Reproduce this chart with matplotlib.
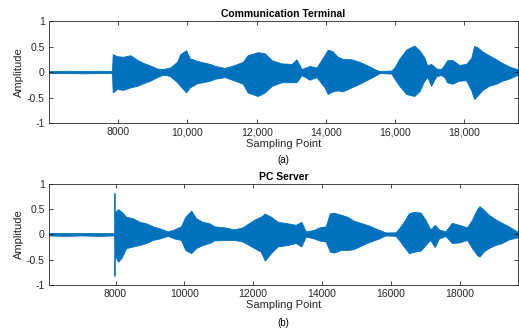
import matplotlib
matplotlib.use("Agg")
import matplotlib.pyplot as plt

plt.rcParams["font.family"] = ["Liberation Sans", "DejaVu Sans"]

# envelope of the waveform (sample, upper, lower)
terminal_x = [6000, 6500, 7000, 7500, 7820, 7840, 7970, 8140, 8350, 8550,
              8720, 8920, 9120, 9300, 9500, 9700, 9790, 9960, 10070, 10280,
              10450, 10650, 10800, 11080, 11370, 11600, 11740, 12030, 12230, 12440,
              12720, 13010, 13150, 13300, 13530, 13730, 13960, 14050, 14190, 14340,
              14480, 14740, 14970, 15200, 15400, 15550, 15890, 15980, 16120, 16320,
              16550, 16700, 16840, 16930, 17040, 17190, 17330, 17420, 17500, 17650,
              17850, 18050, 18200, 18280, 18370, 18510, 18710, 18920, 19090, 19290,
              19520, 19560]
terminal_up = [0.02, 0.025, 0.02, 0.025, 0.02, 0.35, 0.31, 0.30, 0.33, 0.24,
               0.18, 0.13, 0.07, 0.06, 0.09, 0.20, 0.35, 0.43, 0.27, 0.22,
               0.19, 0.16, 0.12, 0.08, 0.14, 0.20, 0.33, 0.39, 0.37, 0.23,
               0.17, 0.16, 0.25, 0.06, 0.12, 0.09, 0.33, 0.44, 0.41, 0.30,
               0.26, 0.25, 0.20, 0.13, 0.06, 0.02, 0.03, 0.09, 0.26, 0.44,
               0.52, 0.43, 0.29, 0.13, 0.16, 0.07, 0.06, 0.14, 0.23, 0.24,
               0.14, 0.16, 0.28, 0.51, 0.49, 0.41, 0.33, 0.25, 0.18, 0.11,
               0.06, 0.06]
terminal_low = [-0.02, -0.02, -0.025, -0.02, -0.02, -0.40, -0.33, -0.35, -0.30, -0.27,
                -0.22, -0.17, -0.10, -0.05, -0.08, -0.20, -0.27, -0.40, -0.30, -0.22,
                -0.20, -0.17, -0.13, -0.10, -0.17, -0.23, -0.40, -0.47, -0.40, -0.27,
                -0.20, -0.20, -0.20, -0.06, -0.15, -0.10, -0.30, -0.43, -0.38, -0.36,
                -0.38, -0.30, -0.23, -0.15, -0.08, -0.02, -0.03, -0.13, -0.27, -0.43,
                -0.47, -0.38, -0.17, -0.10, -0.27, -0.08, -0.06, -0.10, -0.20, -0.23,
                -0.17, -0.16, -0.36, -0.53, -0.47, -0.36, -0.27, -0.23, -0.17, -0.13,
                -0.06, -0.06]

server_x = [6050, 6500, 7000, 7500, 7950, 7960, 7968, 7976, 8000, 8070,
            8170, 8310, 8500, 8700, 8890, 9080, 9280, 9520, 9710, 9900,
            10030, 10200, 10340, 10530, 10730, 10870, 11160, 11450, 11690, 12030,
            12220, 12340, 12520, 12710, 13000, 13240, 13400, 13530, 13770, 13920,
            14110, 14230, 14350, 14550, 14740, 14930, 15170, 15420, 15660, 15850,
            16140, 16240, 16380, 16530, 16700, 16870, 17010, 17150, 17280, 17400,
            17590, 17780, 17980, 18220, 18360, 18510, 18580, 18700, 18850, 19040,
            19230, 19430, 19670, 19700]
server_up = [0.03, 0.03, 0.03, 0.025, 0.03, 0.10, 0.82, 0.30, 0.45, 0.50,
             0.45, 0.35, 0.32, 0.25, 0.22, 0.16, 0.12, 0.06, 0.10, 0.16,
             0.35, 0.47, 0.32, 0.25, 0.22, 0.16, 0.14, 0.10, 0.14, 0.29,
             0.35, 0.41, 0.35, 0.25, 0.22, 0.19, 0.25, 0.06, 0.09, 0.14,
             0.16, 0.42, 0.43, 0.39, 0.35, 0.27, 0.22, 0.16, 0.09, 0.04,
             0.04, 0.12, 0.25, 0.42, 0.45, 0.43, 0.29, 0.10, 0.19, 0.10,
             0.06, 0.23, 0.19, 0.14, 0.29, 0.50, 0.56, 0.49, 0.39, 0.30,
             0.23, 0.16, 0.06, 0.06]
server_low = [-0.02, -0.03, -0.02, -0.03, -0.02, -0.10, -0.82, -0.40, -0.44, -0.54,
              -0.47, -0.27, -0.24, -0.21, -0.17, -0.11, -0.08, -0.03, -0.08, -0.11,
              -0.31, -0.37, -0.27, -0.21, -0.17, -0.12, -0.11, -0.11, -0.14, -0.27,
              -0.34, -0.52, -0.37, -0.24, -0.21, -0.17, -0.24, -0.04, -0.08, -0.12,
              -0.14, -0.34, -0.36, -0.31, -0.31, -0.29, -0.21, -0.14, -0.08, -0.02,
              -0.03, -0.11, -0.24, -0.37, -0.34, -0.32, -0.21, -0.11, -0.25, -0.08,
              -0.03, -0.17, -0.16, -0.11, -0.27, -0.41, -0.44, -0.34, -0.27, -0.21,
              -0.17, -0.10, -0.06, -0.06]

terminal_ticks = [8000, 10000, 12000, 14000, 16000, 18000]
terminal_ticklabels = ["8000", "10,000", "12,000", "14,000", "16,000", "18,000"]
server_ticks = [8000, 10000, 12000, 14000, 16000, 18000]
server_ticklabels = ["8000", "10000", "12000", "14000", "16000", "18000"]
y_ticks = [-1, -0.5, 0, 0.5, 1]
y_ticklabels = ["-1", "-0.5", "0", "0.5", "1"]

blue = "#0072BD"
dark = "#262626"

fig = plt.figure(figsize=(5.19, 3.29), dpi=100)
ax1 = fig.add_axes([0.0944, 0.626, 0.9037, 0.310])
ax2 = fig.add_axes([0.0944, 0.134, 0.9037, 0.307])


def draw(ax, xs, up, low, xlim, ticks, ticklabels, title):
    ax.fill_between(xs, low, up, color=blue, linewidth=0.6, edgecolor=blue)
    ax.set_xlim(*xlim)
    ax.set_ylim(-1, 1)
    ax.set_xticks(ticks)
    ax.set_xticklabels(ticklabels)
    ax.set_yticks(y_ticks)
    ax.set_yticklabels(y_ticklabels)
    ax.tick_params(direction="in", top=True, right=True, length=3,
                   width=0.6, labelsize=7.5, colors=dark, pad=3)
    for s in ax.spines.values():
        s.set_linewidth(0.6)
        s.set_color(dark)
    ax.set_title(title, fontsize=7.5, fontweight="bold", pad=3)
    ax.set_xlabel("Sampling Point", fontsize=8, color=dark, labelpad=1)
    ax.set_ylabel("Amplitude", fontsize=8, color=dark, labelpad=2)


draw(ax1, terminal_x, terminal_up, terminal_low, (6000, 19550),
     terminal_ticks, terminal_ticklabels, "Communication Terminal")
draw(ax2, server_x, server_up, server_low, (6065, 19700),
     server_ticks, server_ticklabels, "PC Server")

fig.text(0.546, 1 - 160 / 329, "(a)", fontsize=7, ha="center", va="center")
fig.text(0.546, 1 - 323 / 329, "(b)", fontsize=7, ha="center", va="center")

fig.savefig("out.png", dpi=100)
